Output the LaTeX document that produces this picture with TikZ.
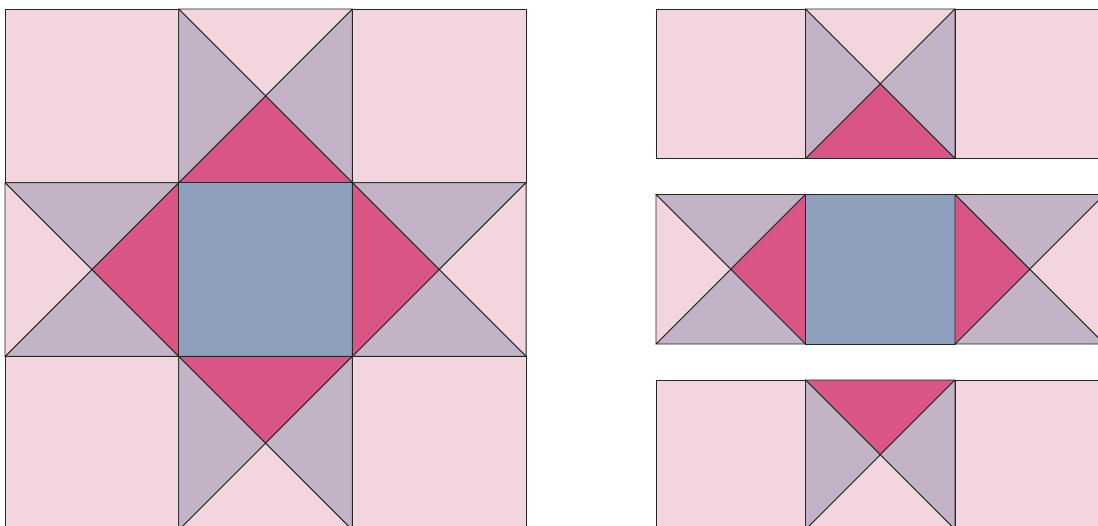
\documentclass[tikz,border=0pt]{standalone}
\usepackage{xcolor}
\definecolor{blush}{HTML}{F2D5DD}
\definecolor{mauve}{HTML}{C2B4C6}
\definecolor{berry}{HTML}{D85586}
\definecolor{slate}{HTML}{8FA0BF}
\tikzset{
  patch/.style={draw=black!85, line width=0.9pt, line join=round},
}
% plain square: x, y, size, fill
\newcommand{\sqpatch}[4]{%
  \filldraw[patch, fill=#4] (#1,#2) rectangle ++(#3,#3);}
% quarter-square triangles: x, y, size, top, right, bottom, left
\newcommand{\qspatch}[7]{%
  \coordinate (qc) at ({#1+#3/2},{#2+#3/2});
  \filldraw[patch, fill=#4] (#1,#2) -- ({#1+#3},#2) -- (qc) -- cycle;
  \filldraw[patch, fill=#5] ({#1+#3},#2) -- ({#1+#3},{#2+#3}) -- (qc) -- cycle;
  \filldraw[patch, fill=#6] ({#1+#3},{#2+#3}) -- (#1,{#2+#3}) -- (qc) -- cycle;
  \filldraw[patch, fill=#7] (#1,{#2+#3}) -- (#1,#2) -- (qc) -- cycle;}
\begin{document}
\begin{tikzpicture}[x=1pt, y=-1pt]
  \useasboundingbox (0,0) rectangle (1098,525);
  \clip (0,0) rectangle (1098,525);
  % full block
  \def\s{173.7}
  \sqpatch{5}{9}{\s}{blush}
  \qspatch{178.7}{9}{\s}{blush}{mauve}{berry}{mauve}
  \sqpatch{352.4}{9}{\s}{blush}
  \qspatch{5}{182.7}{\s}{mauve}{berry}{mauve}{blush}
  \sqpatch{178.7}{182.7}{\s}{slate}
  \qspatch{352.4}{182.7}{\s}{mauve}{blush}{mauve}{berry}
  \sqpatch{5}{356.4}{\s}{blush}
  \qspatch{178.7}{356.4}{\s}{berry}{mauve}{blush}{mauve}
  \sqpatch{352.4}{356.4}{\s}{blush}
  % rows pulled apart
  \def\t{149.5}
  \sqpatch{656}{9}{\t}{blush}
  \qspatch{805.5}{9}{\t}{blush}{mauve}{berry}{mauve}
  \sqpatch{955}{9}{\t}{blush}
  \qspatch{656}{194.5}{\t}{mauve}{berry}{mauve}{blush}
  \sqpatch{805.5}{194.5}{\t}{slate}
  \qspatch{955}{194.5}{\t}{mauve}{blush}{mauve}{berry}
  \sqpatch{656}{380}{\t}{blush}
  \qspatch{805.5}{380}{\t}{berry}{mauve}{blush}{mauve}
  \sqpatch{955}{380}{\t}{blush}
\end{tikzpicture}
\end{document}
